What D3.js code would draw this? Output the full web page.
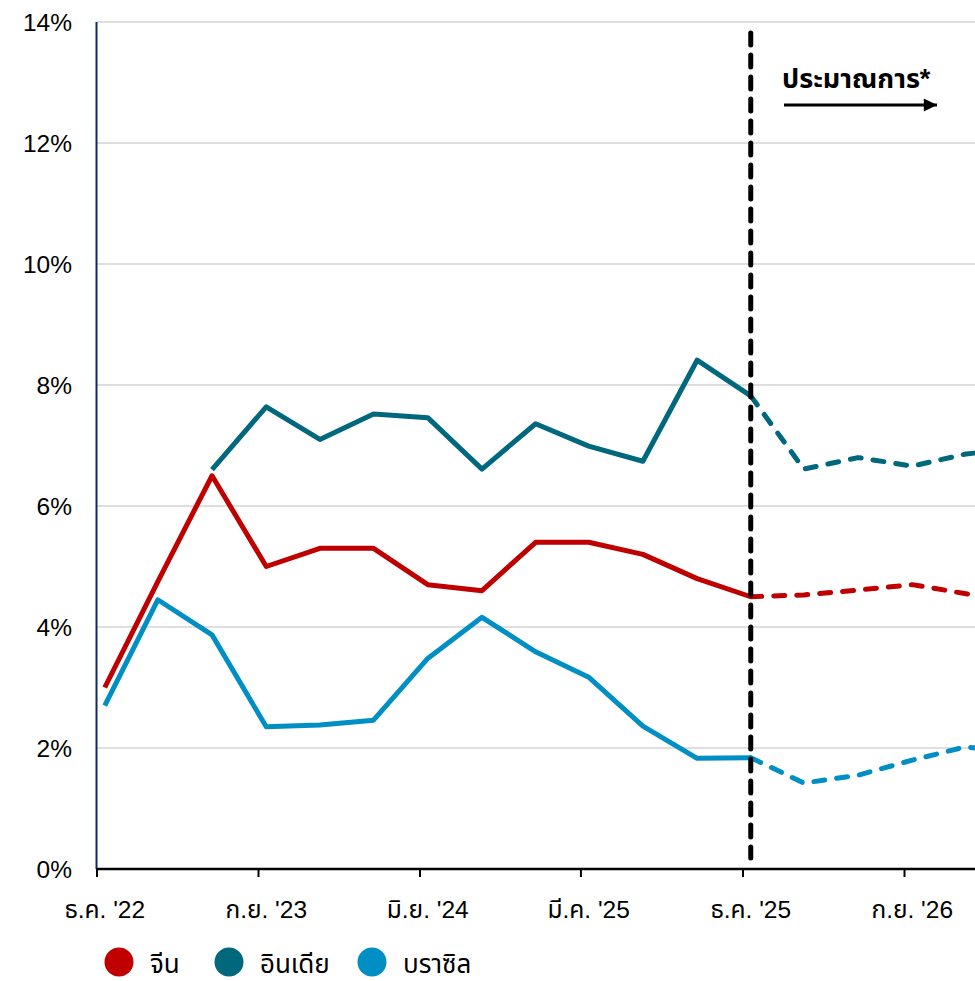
<!DOCTYPE html>
<html>
<head>
<meta charset="utf-8">
<script src="https://cdn.jsdelivr.net/npm/d3@7"></script>
<style>
  body { margin: 0; background: #fff; }
  svg { display: block; font-family: "Liberation Sans", Arial, "Noto Sans Thai", "Noto Sans Thai UI", Loma, Garuda, sans-serif; }
</style>
</head>
<body>
<svg id="chart" width="975" height="981"></svg>
<script>
// quarterly points (plotted mid-month)
const dates = [
  "2022-12-15", "2023-03-15", "2023-06-15", "2023-09-15", "2023-12-15", "2024-03-15",
  "2024-06-15", "2024-09-15", "2024-12-15", "2025-03-15", "2025-06-15", "2025-09-15",
  "2025-12-15", "2026-03-15", "2026-06-15", "2026-09-15", "2026-12-15", "2027-03-15"
];
const china  = [3.0, 4.75, 6.5, 5.0, 5.3, 5.3, 4.7, 4.6, 5.4, 5.4, 5.2, 4.8, 4.5, 4.53, 4.61, 4.7, 4.55, 4.4];
const india  = [null, null, 6.6, 7.64, 7.1, 7.52, 7.46, 6.61, 7.36, 6.99, 6.74, 8.41, 7.82, 6.61, 6.8, 6.66, 6.86, 6.95];
const brazil = [2.7, 4.45, 3.87, 2.35, 2.38, 2.46, 3.48, 4.16, 3.59, 3.17, 2.36, 1.83, 1.84, 1.42, 1.55, 1.8, 2.02, 1.9];

const seriesNames = ["จีน", "อินเดีย", "บราซิล"];
const seriesColors = ["#c00000", "#00687d", "#008fc4"];

const tickDates = ["2022-12-01", "2023-09-01", "2024-06-01", "2025-03-01", "2025-12-01", "2026-09-01"];
const tickLabels = ["ธ.ค. '22", "ก.ย. '23", "มิ.ย. '24", "มี.ค. '25", "ธ.ค. '25", "ก.ย. '26"];
const yTicks = [0, 2, 4, 6, 8, 10, 12, 14];
const forecastIndex = 12; // ธ.ค. '25, first projected segment starts here

const parse = d3.timeParse("%Y-%m-%d");
const xDates = dates.map(parse);

const plotLeft = 96.5, plotRight = 975, plotTop = 22, plotBottom = 869;

const x = d3.scaleTime()
  .domain([parse(tickDates[0]), parse(tickDates[5])])
  .range([plotLeft, 904]);

const y = d3.scaleLinear()
  .domain([0, 14])
  .range([plotBottom, plotTop]);

const svg = d3.select("#chart");
const defs = svg.append("defs");

defs.append("clipPath")
  .attr("id", "plot")
  .append("rect")
  .attr("x", plotLeft).attr("y", 0)
  .attr("width", plotRight - plotLeft).attr("height", 981);

// gridlines
svg.append("g")
  .selectAll("line")
  .data(yTicks.filter(d => d > 0))
  .join("line")
  .attr("x1", plotLeft).attr("x2", plotRight)
  .attr("y1", d => y(d)).attr("y2", d => y(d))
  .attr("stroke", "#d4d4d4")
  .attr("stroke-width", 1.5);

// y labels
svg.append("g")
  .selectAll("text")
  .data(yTicks)
  .join("text")
  .attr("x", 72)
  .attr("y", d => y(d))
  .attr("dy", "0.36em")
  .attr("text-anchor", "end")
  .style("font-size", "24.5px")
  .attr("fill", "#000")
  .text(d => d + "%");

// y axis line
svg.append("line")
  .attr("x1", plotLeft).attr("x2", plotLeft)
  .attr("y1", plotTop).attr("y2", plotBottom)
  .attr("stroke", "#0a2a6b")
  .attr("stroke-width", 2);

// x axis: tick marks at month starts, labels centred on the data points
const xAxis = d3.axisBottom(x)
  .tickValues(tickDates.map(parse))
  .tickSize(8)
  .tickFormat("");

const gx = svg.append("g")
  .attr("transform", `translate(0,${plotBottom})`)
  .call(xAxis);
gx.select(".domain").remove();
gx.selectAll(".tick line").attr("stroke", "#000").attr("stroke-width", 2);

svg.append("line")
  .attr("x1", plotLeft).attr("x2", plotRight)
  .attr("y1", plotBottom).attr("y2", plotBottom)
  .attr("stroke", "#000")
  .attr("stroke-width", 2.5);

svg.append("g")
  .selectAll("text")
  .data(tickDates)
  .join("text")
  .attr("x", d => x(d3.timeDay.offset(parse(d), 14)))
  .attr("y", 918)
  .attr("text-anchor", "middle")
  .style("font-size", "24.5px")
  .text((d, i) => tickLabels[i]);

// lines
const allSeries = [brazil, china, india];
const colorOf = [seriesColors[2], seriesColors[0], seriesColors[1]];

const line = d3.line()
  .defined(d => d.v != null)
  .x(d => x(d.date))
  .y(d => y(d.v));

const plot = svg.append("g").attr("clip-path", "url(#plot)");

allSeries.forEach((vals, s) => {
  const pts = vals.map((v, i) => ({ date: xDates[i], v: v }));
  plot.append("path")
    .datum(pts.slice(0, forecastIndex + 1))
    .attr("d", line)
    .attr("fill", "none")
    .attr("stroke", colorOf[s])
    .attr("stroke-width", 5)
    .attr("stroke-linejoin", "round");
  plot.append("path")
    .datum(pts.slice(forecastIndex))
    .attr("d", line)
    .attr("fill", "none")
    .attr("stroke", colorOf[s])
    .attr("stroke-width", 5)
    .attr("stroke-linejoin", "round")
    .attr("stroke-linecap", "round")
    .attr("stroke-dasharray", "11,12");
});

// forecast divider
const xf = x(xDates[forecastIndex]);
svg.append("line")
  .attr("x1", xf).attr("x2", xf)
  .attr("y1", 33).attr("y2", 858)
  .attr("stroke", "#000")
  .attr("stroke-width", 5)
  .attr("stroke-linecap", "round")
  .attr("stroke-dasharray", "12,10");

// annotation
defs.append("marker")
  .attr("id", "arrow")
  .attr("viewBox", "0 0 10 10")
  .attr("refX", 10).attr("refY", 5)
  .attr("markerWidth", 5).attr("markerHeight", 4.4)
  .attr("markerUnits", "strokeWidth")
  .attr("orient", "auto")
  .append("path")
  .attr("d", "M0,0L10,5L0,10Z")
  .attr("fill", "#000");

svg.append("text")
  .attr("x", 782)
  .attr("y", 88)
  .style("font-size", "27px")
  .style("font-weight", "bold")
  .text("ประมาณการ*");

svg.append("line")
  .attr("x1", 784).attr("x2", 937)
  .attr("y1", 105).attr("y2", 105)
  .attr("stroke", "#000")
  .attr("stroke-width", 3)
  .attr("marker-end", "url(#arrow)");

// legend
const legendX = [119, 229, 372];
const lg = svg.append("g")
  .selectAll("g")
  .data(seriesNames)
  .join("g")
  .attr("transform", (d, i) => `translate(${legendX[i]},962)`);

lg.append("circle")
  .attr("r", 14.5)
  .attr("fill", (d, i) => seriesColors[i]);

lg.append("text")
  .attr("x", 31)
  .attr("y", 11)
  .style("font-size", "26px")
  .text(d => d);
</script>
</body>
</html>
